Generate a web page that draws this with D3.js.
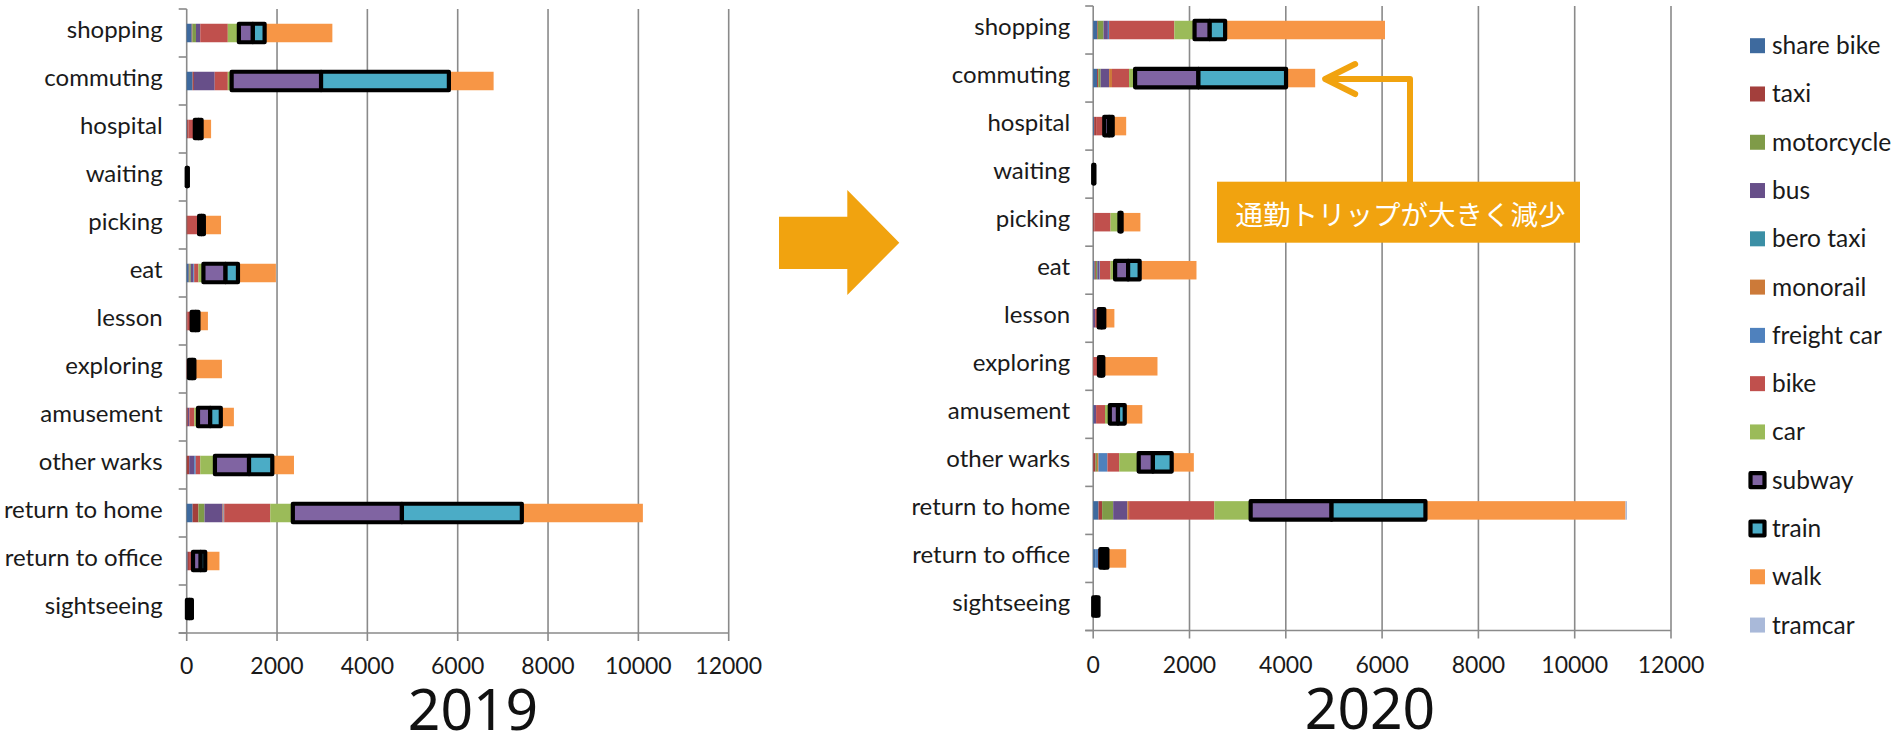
<!DOCTYPE html>
<html>
<head>
<meta charset="utf-8">
<script src="https://cdn.jsdelivr.net/npm/d3@7"></script>
<style>
  html, body { margin: 0; padding: 0; background: #ffffff; }
  svg { display: block; }
  text { font-family: Lato, "Noto Sans", sans-serif; fill: #1a1a1a; }
</style>
</head>
<body>
<svg id="chart" width="1892" height="736"></svg>
<script>
// Trip purposes, top to bottom
const categories = ["shopping", "commuting", "hospital", "waiting", "picking", "eat", "lesson",
  "exploring", "amusement", "other warks", "return to home", "return to office", "sightseeing"];

// Transport modes, in stacking order
const modes = ["share bike", "taxi", "motorcycle", "bus", "bero taxi", "monorail", "freight car",
  "bike", "car", "subway", "train", "walk", "tramcar"];
const modeColors = ["#3E6A9E", "#A33F3C", "#7F9B48", "#674F89", "#3B8FA5", "#CC7A39", "#4F81BD",
  "#C0504D", "#9BBB59", "#8064A2", "#4BACC6", "#F79646", "#A9B9D9"];
const outlinedModes = ["subway", "train"];

// Trips in 2019, one array per mode (category order)
const shareBike2019  = [110, 130, 10, 0, 0, 45, 0, 0, 0, 0, 130, 20, 0];
const taxi2019       = [15, 30, 30, 0, 25, 15, 15, 0, 25, 55, 130, 30, 0];
const motorcycle2019 = [80, 0, 0, 0, 0, 30, 0, 0, 0, 0, 135, 0, 0];
const bus2019        = [95, 460, 0, 0, 0, 55, 0, 0, 35, 110, 400, 0, 0];
const beroTaxi2019   = [0, 0, 0, 0, 0, 0, 0, 0, 0, 0, 0, 0, 0];
const monorail2019   = [0, 0, 0, 0, 0, 0, 0, 0, 0, 0, 20, 0, 0];
const freightCar2019 = [0, 0, 0, 0, 0, 20, 0, 0, 0, 35, 15, 0, 0];
const bike2019       = [610, 290, 130, 0, 250, 95, 95, 50, 110, 100, 1020, 90, 5];
const car2019        = [245, 85, 10, 0, 0, 110, 0, 0, 80, 325, 500, 0, 0];
const subway2019     = [310, 1980, 80, 15, 55, 490, 90, 70, 270, 755, 2415, 170, 60];
const train2019      = [260, 2830, 70, 10, 50, 275, 60, 50, 235, 515, 2655, 100, 50];
const walk2019       = [1500, 990, 210, 5, 380, 840, 210, 610, 290, 480, 2680, 315, 20];
const tramcar2019    = [0, 0, 0, 0, 0, 0, 0, 0, 0, 0, 0, 0, 0];

// Trips in 2020, one array per mode (category order)
const shareBike2020  = [80, 80, 20, 0, 0, 30, 0, 0, 15, 0, 110, 40, 0];
const taxi2020       = [15, 25, 40, 0, 30, 25, 0, 0, 0, 50, 75, 0, 0];
const motorcycle2020 = [120, 50, 0, 0, 0, 30, 0, 0, 0, 30, 230, 0, 0];
const bus2020        = [90, 175, 0, 0, 0, 45, 40, 0, 45, 0, 295, 0, 0];
const beroTaxi2020   = [0, 0, 0, 0, 0, 0, 0, 0, 0, 0, 0, 0, 0];
const monorail2020   = [0, 60, 0, 0, 0, 0, 0, 0, 0, 30, 35, 0, 0];
const freightCar2020 = [25, 0, 0, 0, 0, 10, 0, 0, 0, 185, 0, 60, 0];
const bike2020       = [1355, 355, 170, 0, 330, 220, 75, 120, 185, 245, 1770, 50, 0];
const car2020        = [420, 125, 0, 0, 185, 95, 0, 0, 100, 405, 755, 0, 0];
const subway2020     = [315, 1315, 100, 15, 25, 270, 60, 50, 170, 295, 1680, 80, 60];
const train2020      = [320, 1820, 75, 10, 20, 240, 55, 40, 140, 390, 1950, 65, 50];
const walk2020       = [3320, 605, 280, 15, 390, 1180, 210, 1125, 365, 460, 4155, 390, 20];
const tramcar2020    = [0, 0, 0, 0, 0, 0, 0, 0, 0, 0, 30, 0, 0];

const xTicks = [0, 2000, 4000, 6000, 8000, 10000, 12000];
const years = ["2019", "2020"];
const annotationText = "通勤トリップが大きく減少";

const series2019 = [shareBike2019, taxi2019, motorcycle2019, bus2019, beroTaxi2019, monorail2019,
  freightCar2019, bike2019, car2019, subway2019, train2019, walk2019, tramcar2019];
const series2020 = [shareBike2020, taxi2020, motorcycle2020, bus2020, beroTaxi2020, monorail2020,
  freightCar2020, bike2020, car2020, subway2020, train2020, walk2020, tramcar2020];

function toRows(seriesArrays) {
  return categories.map((c, i) => {
    const row = { category: c };
    modes.forEach((m, k) => { row[m] = seriesArrays[k][i]; });
    return row;
  });
}

const svg = d3.select("#chart");
const color = d3.scaleOrdinal(modes, modeColors);
const gridColor = "#8a8a8a";

const panels = [
  { rows: toRows(series2019), year: years[0], left: 186.7, right: 728.7, top: 9, bottom: 633,
    labelGap: 24, titleX: 473, titleY: 730, tickY: 674 },
  { rows: toRows(series2020), year: years[1], left: 1093.2, right: 1671, top: 6, bottom: 630.5,
    labelGap: 23, titleX: 1370, titleY: 729, tickY: 672.5 }
];

const stack = d3.stack().keys(modes);

panels.forEach(p => {
  const g = svg.append("g");
  const x = d3.scaleLinear().domain([0, 12000]).range([p.left, p.right]);
  const y = d3.scaleBand().domain(categories).range([p.top, p.bottom]).padding(0);
  p.x = x; p.y = y;
  const barH = 18.5;

  // vertical gridlines with short outward ticks
  g.append("g").selectAll("line").data(xTicks).join("line")
    .attr("x1", d => x(d)).attr("x2", d => x(d))
    .attr("y1", p.top).attr("y2", p.bottom + 8)
    .attr("stroke", gridColor).attr("stroke-width", 1.6);

  // category axis line and ticks at band edges
  g.append("line").attr("x1", p.left - 8).attr("x2", p.right)
    .attr("y1", p.bottom).attr("y2", p.bottom)
    .attr("stroke", gridColor).attr("stroke-width", 1.6);
  const edges = categories.map(c => y(c)).concat([p.bottom]);
  g.append("g").selectAll("line").data(edges).join("line")
    .attr("x1", p.left - 8).attr("x2", p.left)
    .attr("y1", d => d).attr("y2", d => d)
    .attr("stroke", gridColor).attr("stroke-width", 1.6);

  // value tick labels
  g.append("g").selectAll("text").data(xTicks).join("text")
    .attr("x", d => x(d)).attr("y", p.tickY)
    .attr("text-anchor", "middle").attr("font-size", 23)
    .text(d => d);

  // category labels
  g.append("g").selectAll("text").data(categories).join("text")
    .attr("x", p.left - p.labelGap)
    .attr("y", d => y(d) + y.bandwidth() / 2 + 4.5)
    .attr("text-anchor", "end").attr("font-size", 24)
    .text(d => d);

  // stacked bars; outlined modes are drawn last so their borders stay visible
  const stacked = stack(p.rows);
  const plain = stacked.filter(s => !outlinedModes.includes(s.key));
  const outlined = stacked.filter(s => outlinedModes.includes(s.key));
  [plain, outlined].forEach((layerSet, li) => {
    g.append("g").selectAll("g").data(layerSet).join("g")
      .attr("fill", s => color(s.key))
      .selectAll("rect")
      .data(s => s.filter(d => d[1] - d[0] > 0))
      .join("rect")
      .attr("x", d => x(d[0]))
      .attr("width", d => x(d[1]) - x(d[0]))
      .attr("y", d => y(d.data.category) + (y.bandwidth() - barH) / 2)
      .attr("height", barH)
      .attr("stroke", li === 1 ? "#000" : "none")
      .attr("stroke-width", li === 1 ? 4.2 : 0)
      .attr("stroke-linejoin", "round");
  });

  // year caption
  svg.append("text").attr("x", p.titleX).attr("y", p.titleY)
    .attr("text-anchor", "middle").attr("font-size", 57)
    .style("font-family", "'Noto Sans', sans-serif").style("fill", "#111")
    .text(p.year);
});

// big arrow between the two years
const arrowColor = "#F1A30F";
svg.append("polygon")
  .attr("points", [[779, 216.7], [847.3, 216.7], [847.3, 190], [899.3, 242.7],
                   [847.3, 295], [847.3, 269], [779, 269]].map(d => d.join(",")).join(" "))
  .attr("fill", arrowColor);

// callout pointing at the 2020 commuting bar
const pr = panels[1];
const commuteIdx = categories.indexOf("commuting");
const commuteTotal = d3.sum(series2020, s => s[commuteIdx]);
const tipX = pr.x(commuteTotal) + 10;
const tipY = pr.y("commuting") + pr.y.bandwidth() / 2 + 1;
const boxX = 1217, boxY = 181.7, boxW = 363, boxH = 61;
const stemX = 1410;

svg.append("path")
  .attr("d", `M${stemX},${boxY + 2} V${tipY} H${tipX}`)
  .attr("fill", "none").attr("stroke", arrowColor).attr("stroke-width", 6)
  .attr("stroke-linejoin", "round");
svg.append("path")
  .attr("d", `M${tipX + 30},${tipY - 15} L${tipX},${tipY} L${tipX + 30},${tipY + 15}`)
  .attr("fill", "none").attr("stroke", arrowColor).attr("stroke-width", 6)
  .attr("stroke-linejoin", "round").attr("stroke-linecap", "round");

svg.append("rect").attr("x", boxX).attr("y", boxY).attr("width", boxW).attr("height", boxH)
  .attr("fill", arrowColor);
svg.append("text").attr("x", boxX + boxW / 2 + 2).attr("y", boxY + boxH / 2 + 1)
  .attr("text-anchor", "middle").attr("dominant-baseline", "central")
  .attr("font-size", 27.5)
  .style("font-family", "'Noto Sans CJK JP', sans-serif").style("fill", "#ffffff")
  .text(annotationText);

// legend
const legend = svg.append("g");
const legendY0 = 45.7, legendStep = 48.28;
const items = legend.selectAll("g").data(modes).join("g")
  .attr("transform", (d, i) => `translate(1750, ${legendY0 + i * legendStep})`);
items.append("rect")
  .attr("x", d => outlinedModes.includes(d) ? 0.5 : 0)
  .attr("y", d => outlinedModes.includes(d) ? -7 : -7.5)
  .attr("width", d => outlinedModes.includes(d) ? 14 : 15)
  .attr("height", d => outlinedModes.includes(d) ? 14 : 15)
  .attr("fill", d => color(d))
  .attr("stroke", d => outlinedModes.includes(d) ? "#000" : "none")
  .attr("stroke-width", 4.2).attr("stroke-linejoin", "round");
items.append("text").attr("x", 22).attr("y", 8.5)
  .attr("font-size", 24.5)
  .text(d => d);
</script>
</body>
</html>
